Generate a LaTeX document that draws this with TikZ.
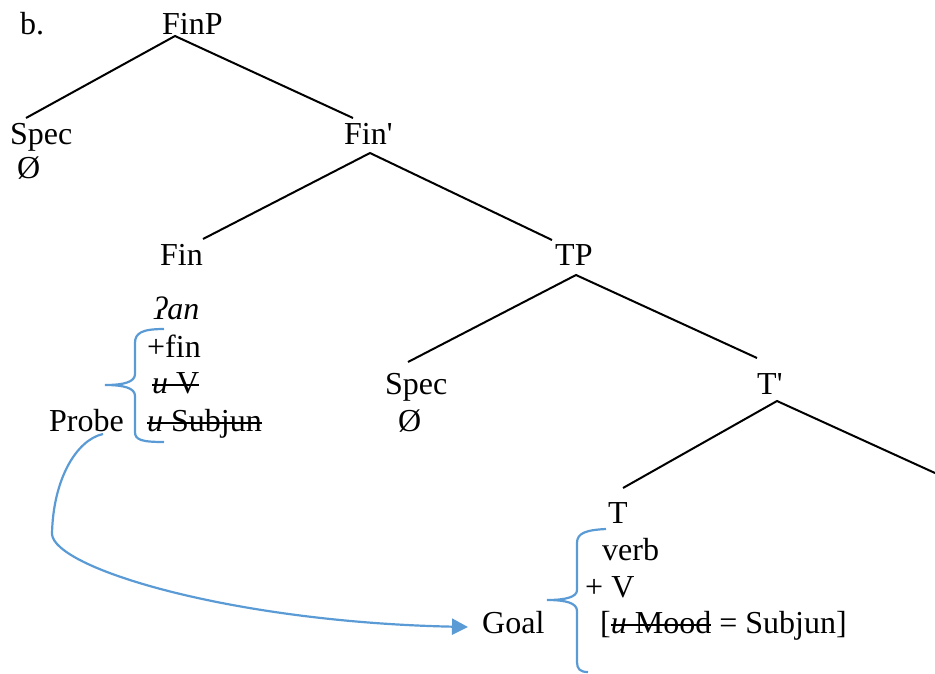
\documentclass[tikz,border=0pt]{standalone}
\usepackage{fontspec}
\setmainfont{Liberation Serif}[Ligatures=TeXOff]
\newsavebox\strkbox
\newcommand\strk[1]{\sbox\strkbox{#1}\rlap{\rule[0.23em]{\wd\strkbox}{1.8pt}}\usebox\strkbox}
\usetikzlibrary{arrows.meta}
\definecolor{brc}{RGB}{91,155,213}
\begin{document}
\begin{tikzpicture}[x=1pt,y=-1pt,
  every node/.style={inner sep=0pt, anchor=base west, font=\fontsize{32}{37}\selectfont},
  branch/.style={line width=2pt},
  bracket/.style={draw=brc, line width=2.2pt},
  link/.style={draw=brc, line width=2.2pt, -{Triangle[length=16pt,width=16pt]}}]
\useasboundingbox (0,0) rectangle (935,673);

% labels
\node (lbl) at (20,34) {b.};
\node (finp) at (162,34) {FinP};
\node (spec1) at (10,144) {Spec};
\node (null1) at (17,178) {Ø};
\node (finbar) at (344,144) {Fin'};
\node (fin) at (160,265) {Fin};
\node (tp) at (555,265) {TP};
\node (an) at (154,319) {\textit{ʔan}};
\node (pfin) at (147,357) {+fin};
\node (uv) at (152,393) {\strk{\textit{u} V}};
\node (usub) at (147,431) {\strk{\textit{u} Subjun}};
\node (probe) at (49,431) {Probe};
\node (spec2) at (385,394) {Spec};
\node (null2) at (398,431) {Ø};
\node (tbar) at (757,394) {T'};
\node (t) at (608,523) {T};
\node (verb) at (602,560) {verb};
\node (pv) at (585,597) {+ V};
\node (mood) at (600,633) {[\strk{\textit{u} Mood} = Subjun]};
\node (goal) at (482,633) {Goal};

% branch end points
\coordinate (finp-s) at (175,36);
\coordinate (spec1-n) at (26,118);
\coordinate (finbar-n) at (353,118);
\coordinate (finbar-s) at (370,153);
\coordinate (fin-n) at (203,239);
\coordinate (tp-n) at (552,240);
\coordinate (tp-s) at (576,275);
\coordinate (spec2-n) at (408,362);
\coordinate (tbar-n) at (757,358);
\coordinate (tbar-s) at (777,401);
\coordinate (t-n) at (623,488);
\coordinate (offright) at (935,473);

\draw[branch] (spec1-n) -- (finp-s) -- (finbar-n);
\draw[branch] (fin-n) -- (finbar-s) -- (tp-n);
\draw[branch] (spec2-n) -- (tp-s) -- (tbar-n);
\draw[branch] (t-n) -- (tbar-s) -- (offright);

% braces
\draw[bracket] (164,329) .. controls (142,329) and (135,333) .. (135,343) -- (135,374)
  .. controls (135,382) and (124,385) .. (105,385)
  .. controls (124,385) and (135,388) .. (135,396) -- (135,432)
  .. controls (135,440) and (142,442) .. (164,442);
\draw[bracket] (606,529) .. controls (586,530) and (577,533) .. (577,543) -- (577,590)
  .. controls (577,597) and (566,600) .. (547,600)
  .. controls (566,600) and (577,603) .. (577,611) -- (577,662)
  .. controls (577,669) and (580,672) .. (588,672);

% probe -> goal
\coordinate (probe-start) at (103,434);
\coordinate (bend) at (52,534);
\coordinate (goal-tip) at (468,627);
\draw[link] (probe-start) .. controls (76,440) and (53,480) .. (bend)
  .. controls (54,568) and (230,622) .. (goal-tip);
\end{tikzpicture}
\end{document}
